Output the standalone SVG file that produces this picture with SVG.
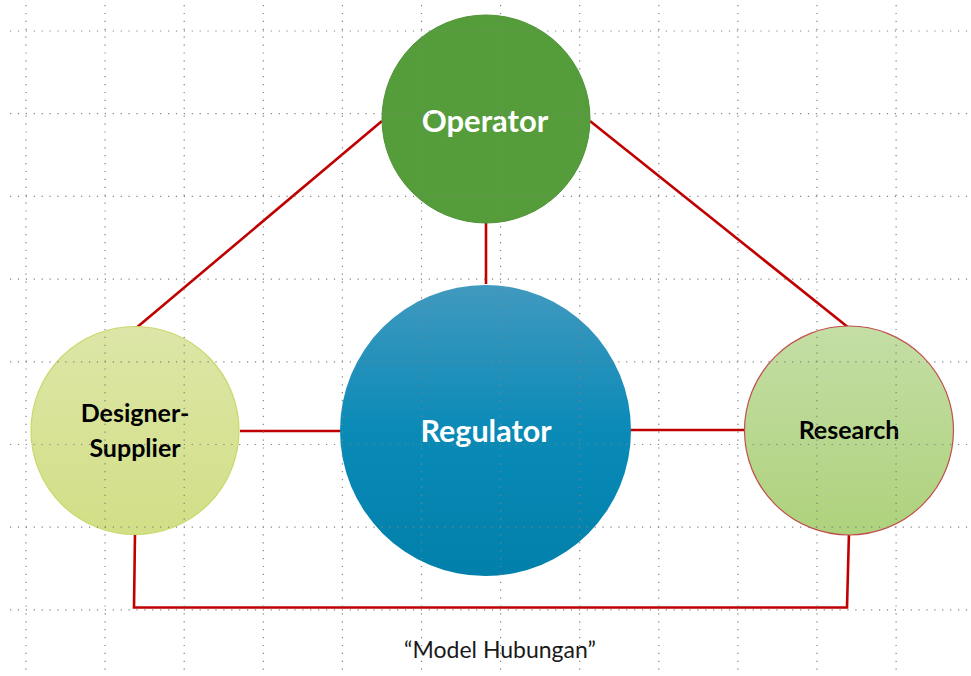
<svg xmlns="http://www.w3.org/2000/svg" width="971" height="676" viewBox="0 0 971 676">
  <defs>
    <linearGradient id="gReg" x1="0" y1="0" x2="0" y2="1">
      <stop offset="0" stop-color="#4199BF"/>
      <stop offset="0.5" stop-color="#0A8AB7"/>
      <stop offset="1" stop-color="#0080AA"/>
    </linearGradient>
    <linearGradient id="gDes" x1="0" y1="0" x2="0" y2="1">
      <stop offset="0" stop-color="#DDE6A7"/>
      <stop offset="1" stop-color="#D2DF86"/>
    </linearGradient>
    <linearGradient id="gRes" x1="0" y1="0" x2="0" y2="1">
      <stop offset="0" stop-color="#C4DEA5"/>
      <stop offset="1" stop-color="#AED27C"/>
    </linearGradient>
  </defs>
  <style>
    .conn { fill: none; stroke: #C00000; stroke-width: 2.6; stroke-linejoin: miter; }
    .grid line { stroke: #808080; stroke-width: 1.2; stroke-dasharray: 1.2 6.7; }
    .lblW { font-family: Lato, "Open Sans", sans-serif; font-weight: bold; fill: #ffffff; text-anchor: middle; }
    .lblB { font-family: Lato, "Open Sans", sans-serif; font-weight: bold; fill: #000000; text-anchor: middle; }
    .cap { font-family: Lato, "Open Sans", sans-serif; fill: #1a1a1a; text-anchor: middle; font-size: 23px; }
  </style>
  <rect x="0" y="0" width="971" height="676" fill="#ffffff"/>

  <g id="connectors">
    <line class="conn" x1="382" y1="121" x2="135" y2="329"/>
    <line class="conn" x1="590" y1="121" x2="849" y2="328"/>
    <line class="conn" x1="486" y1="223" x2="486" y2="284"/>
    <line class="conn" x1="240" y1="431" x2="341" y2="431"/>
    <line class="conn" x1="630" y1="430" x2="745" y2="430"/>
    <polyline class="conn" points="135,533 134,607.5 847,607.5 849,532"/>
  </g>

  <g id="operator">
    <circle cx="486" cy="119" r="104" fill="#559D3B" stroke="#4E9236" stroke-width="1"/>
    <text class="lblW" x="485" y="132" font-size="31">Operator</text>
  </g>

  <g id="regulator">
    <circle cx="485.5" cy="430.5" r="145.5" fill="url(#gReg)"/>
    <text class="lblW" x="486" y="442" font-size="30.5">Regulator</text>
  </g>

  <g id="designer-supplier">
    <circle cx="135" cy="430.5" r="104" fill="url(#gDes)" stroke="#C9D86C" stroke-width="1.2"/>
    <text class="lblB" x="135" y="422" font-size="25">Designer-</text>
    <text class="lblB" x="135" y="457" font-size="25">Supplier</text>
  </g>

  <g id="research">
    <circle cx="849" cy="430.5" r="104.5" fill="url(#gRes)" stroke="#C0504D" stroke-width="1.2"/>
    <text class="lblB" x="849" y="439" font-size="25">Research</text>
  </g>

  <g id="caption">
    <text class="cap" x="500" y="658">“Model Hubungan”</text>
  </g>

  <g class="grid">
    <line x1="10" y1="31" x2="971" y2="31"/>
    <line x1="10" y1="113.7" x2="971" y2="113.7"/>
    <line x1="10" y1="196.4" x2="971" y2="196.4"/>
    <line x1="10" y1="279.1" x2="971" y2="279.1"/>
    <line x1="10" y1="361.8" x2="971" y2="361.8"/>
    <line x1="10" y1="444.5" x2="971" y2="444.5"/>
    <line x1="10" y1="527.2" x2="971" y2="527.2"/>
    <line x1="10" y1="609.9" x2="971" y2="609.9"/>
    <line x1="26" y1="5" x2="26" y2="676"/>
    <line x1="105.1" y1="5" x2="105.1" y2="676"/>
    <line x1="184.2" y1="5" x2="184.2" y2="676"/>
    <line x1="263.3" y1="5" x2="263.3" y2="676"/>
    <line x1="342.4" y1="5" x2="342.4" y2="676"/>
    <line x1="421.5" y1="5" x2="421.5" y2="676"/>
    <line x1="500.6" y1="5" x2="500.6" y2="676"/>
    <line x1="579.7" y1="5" x2="579.7" y2="676"/>
    <line x1="658.8" y1="5" x2="658.8" y2="676"/>
    <line x1="737.9" y1="5" x2="737.9" y2="676"/>
    <line x1="817" y1="5" x2="817" y2="676"/>
    <line x1="896.1" y1="5" x2="896.1" y2="676"/>
  </g>
</svg>
